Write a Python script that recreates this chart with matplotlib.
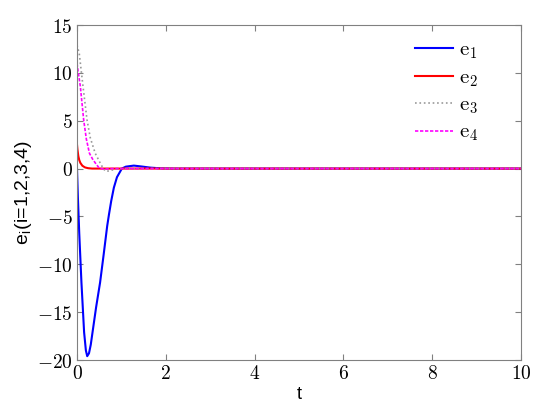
import numpy as np
import matplotlib
matplotlib.use("Agg")
import matplotlib.pyplot as plt

plt.rcParams['mathtext.fontset'] = 'cm'

# values
t1 = [0, 0.02, 0.05, 0.1, 0.16, 0.2, 0.23, 0.27, 0.31, 0.35, 0.43, 0.52, 0.6, 0.68,
      0.72, 0.77, 0.83, 0.9, 1.01, 1.1, 1.28, 1.45, 1.65, 1.9, 2.2, 10]
e1 = [0, -3.0, -6.7, -11.9, -17.1, -19.0, -19.6, -19.3, -18.4, -17.1, -14.5, -11.9, -9.0, -6.0,
      -4.8, -3.4, -2.0, -0.9, 0.0, 0.2, 0.31, 0.22, 0.1, 0.02, 0.0, 0.0]

t2 = [0, 0.01, 0.03, 0.05, 0.075, 0.12, 0.18, 0.25, 0.34, 0.5, 10]
e2 = [2.5, 2.0, 1.3, 0.9, 0.6, 0.3, 0.12, 0.04, 0.0, 0.0, 0.0]

t3 = [0, 0.05, 0.135, 0.225, 0.3, 0.41, 0.52, 0.58, 0.64, 0.72, 0.82, 0.94, 1.1, 10]
e3 = [12.9, 12.05, 8.6, 5.1, 3.2, 1.6, 0.6, 0.1, -0.28, -0.25, -0.12, 0.0, 0.0, 0.0]

t4 = [0, 0.03, 0.075, 0.15, 0.21, 0.28, 0.35, 0.41, 0.5, 0.6, 0.8, 10]
e4 = [11.0, 10.0, 8.6, 5.1, 3.1, 1.6, 1.0, 0.6, 0.05, -0.05, 0.0, 0.0]

xticks = [0, 2, 4, 6, 8, 10]
yticks = [-20, -15, -10, -5, 0, 5, 10, 15]

fig = plt.figure(figsize=(5.5, 4.18), dpi=100)
ax = fig.add_axes([77 / 550, 1 - 360 / 418, 444 / 550, 335 / 418])

ax.plot(t1, e1, color='#0000ff', lw=1.5, label=r'$\mathrm{e}_1$')
ax.plot(t2, e2, color='#ff0000', lw=1.5, label=r'$\mathrm{e}_2$')
ax.plot(t3, e3, color='#999999', lw=1.2, ls=':', label=r'$\mathrm{e}_3$')
ax.plot(t4, e4, color='#ff00ff', lw=1.2, ls='--', dashes=(2, 1), label=r'$\mathrm{e}_4$')

ax.set_xlim(0, 10)
ax.set_ylim(-20, 15)
ax.set_xticks(xticks)
ax.set_yticks(yticks)
ax.set_xticklabels([f'${v}$' for v in xticks], fontsize=14)
ax.set_yticklabels([f'${v}$' for v in yticks], fontsize=14)
ax.tick_params(direction='in', top=True, right=True, length=4, color='#808080', pad=3)
for s in ax.spines.values():
    s.set_color('#808080')

ax.set_xlabel('t', family='Liberation Sans', fontsize=13, labelpad=2)
ax.set_ylabel(r'e$_\mathregular{i}$(i=1,2,3,4)', family='Liberation Sans', fontsize=14, labelpad=2)

ax.legend(loc='upper left', bbox_to_anchor=(0.72, 1.012), frameon=False, prop={'size': 15},
          handlelength=1.8, handletextpad=0.3, labelspacing=0.28)

fig.savefig('out.png', dpi=100)
